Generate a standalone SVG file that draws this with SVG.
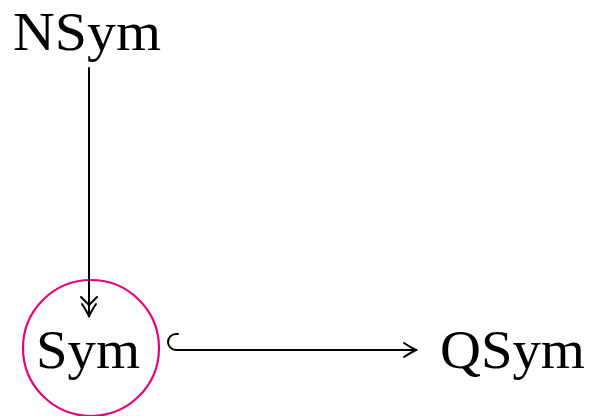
<svg xmlns="http://www.w3.org/2000/svg" width="590" height="416" viewBox="0 0 590 416">
<style>
.lbl{font-family:"Liberation Serif","Times New Roman",serif;font-size:54px;fill:#000}
.edge{stroke:#000;stroke-width:2;fill:none;stroke-linecap:round;stroke-linejoin:round}
</style>
<defs>
<marker id="tip" markerUnits="userSpaceOnUse" markerWidth="20" markerHeight="20" refX="12" refY="8" orient="auto" overflow="visible">
<path d="M0,1 Q6,5 12,8 Q6,11 0,15" fill="none" stroke="#000" stroke-width="2" stroke-linecap="round"/>
</marker>
</defs>
<g id="NSym"><text class="lbl" x="13" y="50" textLength="148" lengthAdjust="spacingAndGlyphs">NSym</text></g>
<g id="Sym">
<circle cx="91" cy="348" r="68" fill="none" stroke="#e5007e" stroke-width="2.2"/>
<text class="lbl" x="36" y="368" textLength="104" lengthAdjust="spacingAndGlyphs">Sym</text>
</g>
<g id="QSym"><text class="lbl" x="440" y="368" textLength="145" lengthAdjust="spacingAndGlyphs">QSym</text></g>
<g id="connectors">
<path class="edge" d="M89,68 V316" marker-end="url(#tip)"/>
<path class="edge" d="M81,297 Q85,301 89,305 Q93,301 97,297"/>
<path class="edge" d="M178,334 H176 A8,8 0 0 0 176,350 H416" marker-end="url(#tip)"/>
</g>
</svg>
